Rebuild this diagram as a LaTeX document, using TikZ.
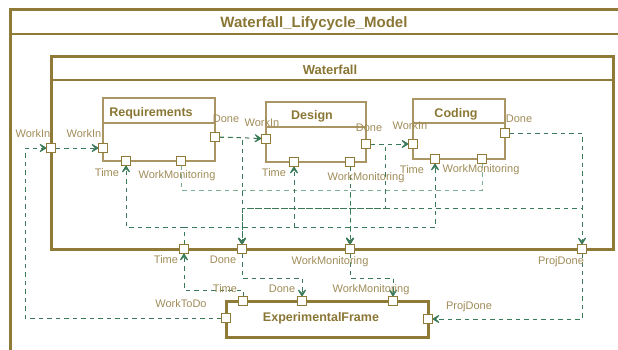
\documentclass[tikz,border=0pt]{standalone}
\usepackage{fontspec}
\setmainfont{Liberation Sans}
\usetikzlibrary{arrows.meta}

\definecolor{frameol}{RGB}{143,122,56}
\definecolor{boxol}{RGB}{170,150,98}
\definecolor{labol}{RGB}{160,140,88}
\definecolor{titleol}{RGB}{138,118,52}
\definecolor{linkgr}{RGB}{58,122,88}
\definecolor{linkgrl}{RGB}{128,176,148}

\begin{document}
\begin{tikzpicture}[x=1pt,y=-1pt,
  framebox/.style={draw=frameol, line width=3pt, inner sep=0pt},
  hdrline/.style={draw=frameol, line width=2.2pt},
  compbox/.style={draw=boxol, line width=1.2pt, inner sep=0pt},
  compline/.style={draw=boxol, line width=1.2pt},
  port/.style={draw=frameol, fill=white, line width=1pt, minimum size=8pt, inner sep=0pt},
  plabel/.style={text=labol, font=\fontsize{11}{13}\selectfont, inner sep=0pt, text height=7.9pt, text depth=0pt},
  ctitle/.style={text=titleol, font=\fontsize{12.5}{14}\selectfont\bfseries, inner sep=0pt, text height=9pt, text depth=0pt},
  conn/.style={draw=linkgr, line width=1pt, dash pattern=on 4.5pt off 4pt},
  connlight/.style={draw=linkgrl, line width=1pt, dash pattern=on 4.5pt off 4pt},
  tip/.style={-{Stealth[length=10pt,width=12pt,inset=6pt,line width=1.2pt,round,color=linkgr]}}
]
\useasboundingbox (0,0) rectangle (618,349);
\clip (0,0) rectangle (618,349);

% outer coupled model
\draw[framebox] (10,9) rectangle (622,370);
\draw[hdrline] (10,34) -- (622,34);
\node[text=titleol, font=\fontsize{15}{17}\selectfont\bfseries, inner sep=0pt, text height=10.8pt, text depth=0pt] (ttlOuter) at (314,22) {Waterfall\_Lifycycle\_Model};

% Waterfall coupled model
\node[framebox, minimum width=562pt, minimum height=193pt] (wf) at (332,152.5) {};
\draw[hdrline] (51,80) -- (613,80);
\node[text=titleol, font=\fontsize{13}{15}\selectfont\bfseries, inner sep=0pt, text height=9.4pt, text depth=0pt] (ttlWf) at (330,70) {Waterfall};

% atomic components
\node[compbox, minimum width=112pt, minimum height=63pt] (req) at (159,129.5) {};
\draw[compline] (103,123) -- (215,123);
\node[ctitle] (ttlReq) at (151,112) {Requirements};

\node[compbox, minimum width=100pt, minimum height=60pt] (des) at (316,132) {};
\draw[compline] (266,127) -- (366,127);
\node[ctitle] (ttlDes) at (312,115) {Design};

\node[compbox, minimum width=92pt, minimum height=60pt] (cod) at (459,129) {};
\draw[compline] (413,123) -- (505,123);
\node[ctitle] (ttlCod) at (456,113) {Coding};

% experimental frame
\node[framebox, minimum width=202pt, minimum height=36pt] (ef) at (327,319) {};
\node[ctitle] (ttlEf) at (321,317) {ExperimentalFrame};

% ports
\node[port] (wfWI)  at (51,148) {};
\node[port] (wfTime) at (184,249) {};
\node[port] (wfDone) at (242,249) {};
\node[port] (wfWM)  at (350,249) {};
\node[port] (wfPD)  at (582,249) {};

\node[port] (rWI)   at (103,148) {};
\node[port] (rDone) at (215,137) {};
\node[port] (rTime) at (126,161) {};
\node[port] (rWM)   at (181,161) {};

\node[port] (dWI)   at (266,138.5) {};
\node[port] (dDone) at (366,144) {};
\node[port] (dTime) at (294,162) {};
\node[port] (dWM)   at (350,162) {};

\node[port] (cWI)   at (413,144) {};
\node[port] (cDone) at (505,133) {};
\node[port] (cTime) at (435,159) {};
\node[port] (cWM)   at (482,159) {};

\node[port] (efTime) at (243,301) {};
\node[port] (efDone) at (302,301) {};
\node[port] (efWM)   at (393,301) {};
\node[port] (efWTD)  at (226,318) {};
\node[port] (efPD)   at (428,319) {};

% routing levels
\coordinate (wbus) at (0,190);
\coordinate (dbus) at (0,208);
\coordinate (tbus) at (0,227);
\coordinate (dlow) at (0,278);
\coordinate (tlow) at (0,290);
\coordinate (wtd)  at (25,0);
\coordinate (ddrop) at (385,0);

% couplings
\draw[connlight,tip] (rWM.south) |- (wbus -| wfWM) -- (wfWM.north);
\draw[connlight,tip] (cWM.south) |- (wbus -| wfWM) -- (wfWM.north);
\draw[conn,tip] (dWM.south) -- (wfWM.north);

\draw[conn,tip] (efWTD.west) -| (wtd |- wfWI) -- (wfWI.west);
\draw[conn,tip] (wfWI.east) -- (rWI.west);

\draw[conn,tip] (rDone.east) -- (dWI.west);
\draw[conn,tip] (rDone.east) -| (wfDone.north);
\draw[conn,tip] (dDone.east) -- (cWI.west);
\draw[conn,tip] (dDone.east) -| (ddrop |- dbus) -| (wfDone.north);
\draw[conn,tip] (cDone.east) -| (wfPD.north);
\draw[conn,tip] (cDone.east) -| (wfPD |- dbus) -| (wfDone.north);

\draw[conn,tip] (wfTime.north) |- (tbus -| rTime) -- (rTime.south);
\draw[conn,tip] (wfTime.north) |- (tbus -| dTime) -- (dTime.south);
\draw[conn,tip] (wfTime.north) |- (tbus -| cTime) -- (cTime.south);

\draw[conn,tip] (efTime.north) |- (tlow -| wfTime) -- (wfTime.south);
\draw[conn,tip] (wfDone.south) |- (dlow -| efDone) -- (efDone.north);
\draw[conn,tip] (wfWM.south) |- (dlow -| efWM) -- (efWM.north);
\draw[conn,tip] (wfPD.south) |- (efPD.east);

% redraw ports on top of the couplings
\foreach \p in {wfWI,wfTime,wfDone,wfWM,wfPD,rWI,rDone,rTime,rWM,dWI,dDone,dTime,dWM,cWI,cDone,cTime,cWM,efTime,efDone,efWM,efWTD,efPD}
  \draw[draw=frameol, fill=white, line width=1pt] (\p.south west) rectangle (\p.north east);

% port labels
\node[plabel] (lWfWI)  at (33,134) {WorkIn};
\node[plabel] (lRWI)   at (84,134) {WorkIn};
\node[plabel] (lRDone) at (226,119) {Done};
\node[plabel] (lRTime) at (107,173) {Time};
\node[plabel] (lRWM)   at (177,175) {WorkMonitoring};

\node[plabel] (lDWI)   at (262,123) {WorkIn};
\node[plabel] (lDDone) at (369,128) {Done};
\node[plabel] (lDTime) at (274,173) {Time};
\node[plabel] (lDWM)   at (366,177) {WorkMonitoring};

\node[plabel] (lCWI)   at (410,126) {WorkIn};
\node[plabel] (lCDone) at (519,119) {Done};
\node[plabel] (lCTime) at (412,170) {Time};
\node[plabel] (lCWM)   at (481,169) {WorkMonitoring};

\node[plabel] (lWfTime) at (166,260) {Time};
\node[plabel] (lWfDone) at (223,260) {Done};
\node[plabel] (lWfWM)   at (330,261) {WorkMonitoring};
\node[plabel] (lWfPD)   at (561,261) {ProjDone};

\node[plabel] (lEfTime) at (225,289) {Time};
\node[plabel] (lEfDone) at (282,289) {Done};
\node[plabel] (lEfWM)   at (371,289) {WorkMonitoring};
\node[plabel] (lEfPD)   at (469,306) {ProjDone};
\node[plabel] (lEfWTD)  at (181,304) {WorkToDo};
\end{tikzpicture}
\end{document}
